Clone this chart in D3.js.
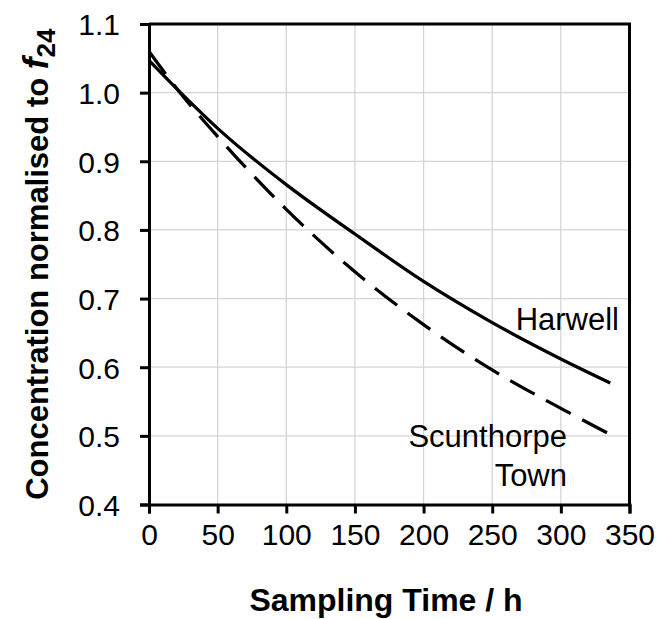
<!DOCTYPE html>
<html>
<head>
<meta charset="utf-8" />
<script src="https://d3js.org/d3.v7.min.js"></script>
<style>
  body { margin: 0; background: #fff; }
  svg text { font-family: "Liberation Sans", Arial, sans-serif; fill: #000; }
</style>
</head>
<body>
<svg id="chart" width="660" height="619"></svg>
<script>

// values
const hours = [0, 25, 50, 100, 150, 200, 250, 300, 336];
const harwell = [1.047, 0.996, 0.948, 0.866, 0.794, 0.725, 0.665, 0.612, 0.577];
const scunthorpe = [1.060, 0.994, 0.936, 0.830, 0.739, 0.662, 0.596, 0.540, 0.502];

const xTicks = [0, 50, 100, 150, 200, 250, 300, 350];
const yTicks = [0.4, 0.5, 0.6, 0.7, 0.8, 0.9, 1.0, 1.1];

var svg = d3.select("#chart");

// plot box (window.top is taken, so use other names)
var plotL = 149, plotR = 629.5, plotT = 24, plotB = 504.5;

var x = d3.scaleLinear().domain([0, 350]).range([plotL, plotR]);
var y = d3.scaleLinear().domain([0.4, 1.1]).range([plotB, plotT]);

// grid
svg.append("g")
  .selectAll("line")
  .data(xTicks.slice(1, -1))
  .enter()
  .append("line")
  .attr("x1", d => x(d)).attr("x2", d => x(d))
  .attr("y1", plotT).attr("y2", plotB)
  .attr("stroke", "#d4d4d4").attr("stroke-width", 1.3);

svg.append("g")
  .selectAll("line")
  .data(yTicks.slice(1, -1))
  .enter()
  .append("line")
  .attr("x1", plotL).attr("x2", plotR)
  .attr("y1", d => y(d)).attr("y2", d => y(d))
  .attr("stroke", "#d4d4d4").attr("stroke-width", 1.3);

// axes
var xAxis = svg.append("g")
  .attr("transform", "translate(0," + plotB + ")")
  .call(d3.axisBottom(x).tickValues(xTicks).tickSize(9).tickPadding(10).tickFormat(d3.format("d")));

var yAxis = svg.append("g")
  .attr("transform", "translate(" + plotL + ",0)")
  .call(d3.axisLeft(y).tickValues(yTicks).tickSize(9).tickPadding(20).tickFormat(d3.format(".1f")));

[xAxis, yAxis].forEach(function (g) {
  g.select(".domain").attr("stroke", "#000").attr("stroke-width", 3);
  g.selectAll(".tick line").attr("stroke", "#000").attr("stroke-width", 3);
  g.selectAll(".tick text").style("font-size", "30px").attr("fill", "#000");
});
xAxis.selectAll(".tick text").attr("dy", "0.71em");
yAxis.selectAll(".tick text").attr("dy", "0.36em");

// top and right border
svg.append("path")
  .attr("d", "M" + plotL + "," + plotT + "H" + plotR + "V" + plotB)
  .attr("fill", "none")
  .attr("stroke", "#000")
  .attr("stroke-width", 3);

// the two curves
var line = d3.line()
  .x((d, i) => x(hours[i]))
  .y(d => y(d))
  .curve(d3.curveMonotoneX);

svg.append("path")
  .datum(harwell)
  .attr("d", line)
  .attr("fill", "none")
  .attr("stroke", "#000")
  .attr("stroke-width", 3.2);

svg.append("path")
  .datum(scunthorpe)
  .attr("d", line)
  .attr("fill", "none")
  .attr("stroke", "#000")
  .attr("stroke-width", 3.2)
  .attr("stroke-dasharray", "28,13");

// labels on the curves
svg.append("text")
  .attr("x", 619).attr("y", 330)
  .attr("text-anchor", "end")
  .style("font-size", "31px")
  .text("Harwell");

svg.append("text")
  .attr("x", 567).attr("y", 447)
  .attr("text-anchor", "end")
  .style("font-size", "31px")
  .text("Scunthorpe");

svg.append("text")
  .attr("x", 567).attr("y", 486)
  .attr("text-anchor", "end")
  .style("font-size", "31px")
  .text("Town");

// axis titles
svg.append("text")
  .attr("x", 386).attr("y", 611)
  .attr("text-anchor", "middle")
  .style("font-size", "32px")
  .style("font-weight", "bold")
  .text("Sampling Time / h");

var yTitle = svg.append("text")
  .attr("transform", "translate(48," + ((plotT + plotB) / 2) + ") rotate(-90)")
  .attr("text-anchor", "middle")
  .style("font-size", "31px")
  .style("font-weight", "bold");
yTitle.append("tspan").text("Concentration normalised to ");
yTitle.append("tspan").style("font-style", "italic").style("font-size", "35px").text("f");
yTitle.append("tspan").attr("dy", 7).style("font-size", "26px").text("24");

</script>
</body>
</html>
